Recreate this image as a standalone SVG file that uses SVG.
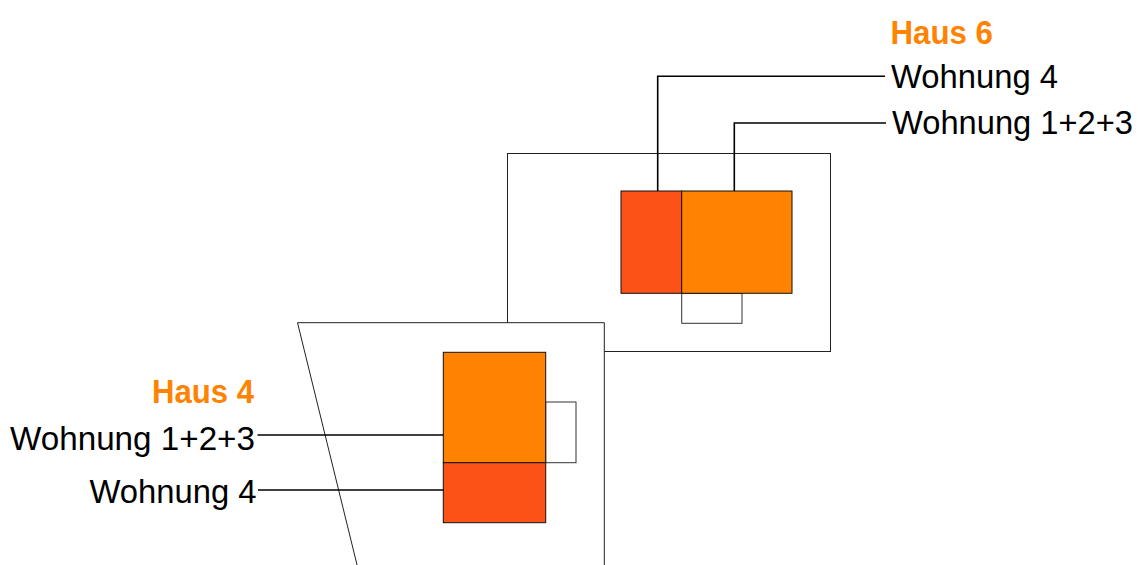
<svg xmlns="http://www.w3.org/2000/svg" width="1138" height="565" viewBox="0 0 1138 565">
<style>
.out{fill:#fff;stroke:#222;stroke-width:1}
.red{fill:#FC5218;stroke:#111;stroke-width:1}
.org{fill:#FF8300;stroke:#111;stroke-width:1}
.sm{fill:none;stroke:#333;stroke-width:1}
.ld{fill:none;stroke:#000;stroke-width:1.6}
.t{font-family:"Liberation Sans",Arial,sans-serif;font-size:34px;fill:#000}
.h{font-family:"Liberation Sans",Arial,sans-serif;font-size:34px;font-weight:bold;fill:#FF8300}
</style>
<rect x="0" y="0" width="1138" height="565" fill="#fff"/>
<g id="haus6">
<rect class="out" x="507.5" y="153.5" width="323" height="198"/>
<rect class="sm" x="681.7" y="293.3" width="60.3" height="30"/>
<rect class="red" x="621" y="191" width="60.7" height="102.3"/>
<rect class="org" x="681.7" y="191" width="110.3" height="102.3"/>
<text class="h" x="890.5" y="44.3" textLength="102.5" lengthAdjust="spacingAndGlyphs">Haus 6</text>
<text class="t" x="891" y="88.3" textLength="167" lengthAdjust="spacingAndGlyphs">Wohnung 4</text>
<text class="t" x="892" y="134.3" textLength="241" lengthAdjust="spacingAndGlyphs">Wohnung 1+2+3</text>
</g>
<g id="haus4">
<polygon class="out" points="297.5,322.7 604.3,322.7 604.3,566 357.3,566"/>
<rect class="sm" x="545.7" y="402" width="30.3" height="60.7"/>
<rect class="org" x="443.3" y="352.3" width="102.4" height="110.4"/>
<rect class="red" x="443.3" y="462.7" width="102.4" height="60"/>
<text class="h" x="254" y="402.7" text-anchor="end" textLength="102" lengthAdjust="spacingAndGlyphs">Haus 4</text>
<text class="t" x="255" y="450" text-anchor="end" textLength="245" lengthAdjust="spacingAndGlyphs">Wohnung 1+2+3</text>
<text class="t" x="256.5" y="502.7" text-anchor="end" textLength="167" lengthAdjust="spacingAndGlyphs">Wohnung 4</text>
</g>
<g id="connectors">
<polyline class="ld" points="885,76.3 657.7,76.3 657.7,191"/>
<polyline class="ld" points="886,123 734.3,123 734.3,191"/>
<line class="ld" x1="257.5" y1="435" x2="443.3" y2="435"/>
<line class="ld" x1="258" y1="490" x2="444" y2="490"/>
</g>
</svg>
